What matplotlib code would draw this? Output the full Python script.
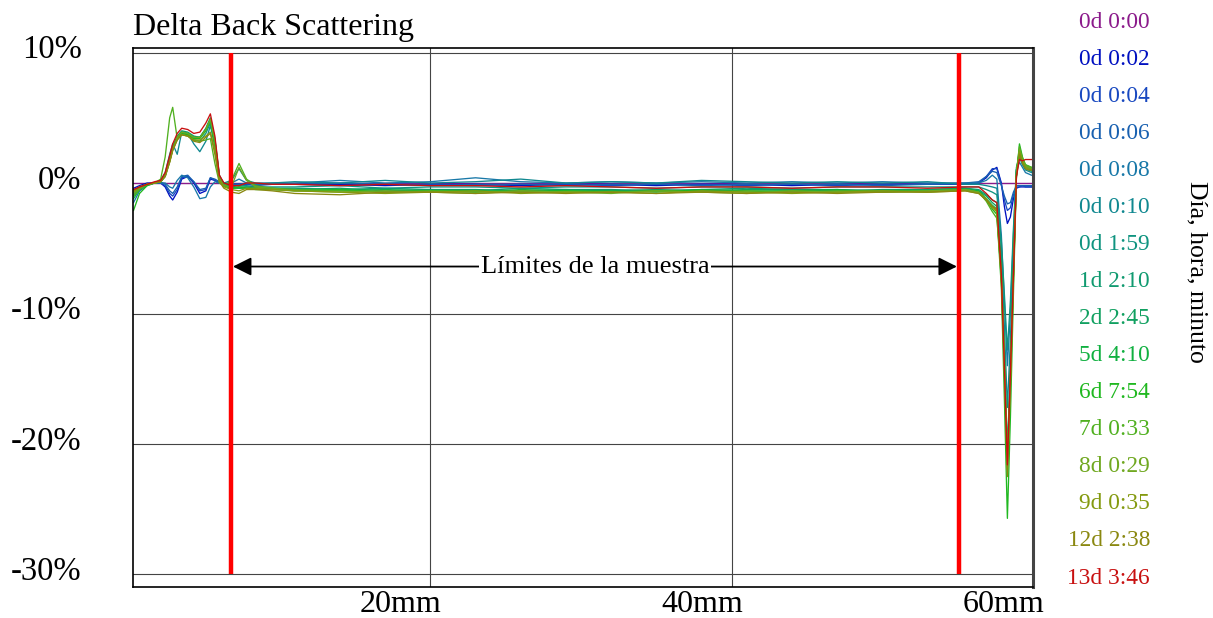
import matplotlib.pyplot as plt
from matplotlib.transforms import ScaledTranslation

plt.rcParams['font.family'] = ['Liberation Serif', 'DejaVu Serif']

# position along the tube (mm)
pos_mm = ([0.3, 0.7, 1.2, 1.7, 2.1, 2.4, 2.7, 2.9, 3.2, 3.5, 3.9, 4.3, 4.7, 5.1, 5.4, 5.7,
           6.0, 6.3, 6.8, 7.3, 7.8, 8.4, 9.5]
          + [11, 14, 17, 20, 23, 26, 29, 32, 35, 38, 41, 44, 47, 50, 53]
          + [55.5, 56.4, 56.9, 57.3, 57.6, 57.9, 58.1, 58.3, 58.5, 58.7, 58.9, 59.1, 59.3,
             59.5, 59.7, 59.9])

# delta backscattering (%) for each scan
bs_0000 = [0.0] * len(pos_mm)
bs_0002 = ([-0.4, -0.2, 0.0, 0.0, 0.0, -0.3, -1.0, -1.3, -0.7, 0.3, 0.5, 0.0, -0.8, -0.6, 0.3, 0.2, 0.0, -0.1, -0.1, -0.1, -0.1, -0.1, -0.1]
           + [-0.1, -0.1, -0.2, -0.1, -0.1, -0.2, -0.1, -0.1, -0.2, -0.1, -0.1, -0.2, -0.1, -0.1, -0.1]
           + [-0.1, 0.0, 0.4, 1.0, 1.2, 0.0, -1.8, -3.1, -2.6, -1.2, -0.4, -0.3, -0.3, -0.3, -0.3, -0.3])
bs_0004 = ([-0.5, -0.3, -0.1, 0.0, 0.0, -0.2, -0.8, -1.0, -0.5, 0.4, 0.5, 0.1, -0.6, -0.5, 0.4, 0.2, 0.0, -0.1, -0.1, -0.1, -0.1, -0.2, -0.1]
           + [-0.1, -0.2, -0.1, -0.1, -0.2, -0.1, -0.1, -0.2, -0.1, -0.1, -0.2, -0.1, -0.2, -0.1, -0.1]
           + [-0.1, 0.0, 0.5, 1.1, 1.1, -0.1, -1.3, -2.1, -1.9, -0.9, -0.3, -0.3, -0.2, -0.3, -0.3, -0.3])
bs_0006 = ([-0.8, -0.4, -0.1, 0.0, 0.1, -0.1, -0.6, -0.8, -0.3, 0.5, 0.6, 0.1, -0.5, -0.4, 0.4, 0.3, 0.1, 0.0, -0.1, -0.1, 0.0, -0.1, -0.1]
           + [-0.1, 0.0, -0.1, -0.2, -0.1, -0.1, -0.2, -0.1, -0.1, -0.2, -0.1, -0.1, -0.1, -0.2, -0.1]
           + [0.0, 0.1, 0.5, 0.9, 0.8, -0.2, -1.0, -1.6, -1.5, -0.7, -0.2, -0.2, -0.2, -0.2, -0.2, -0.2])
bs_0008 = ([-1.5, -0.6, -0.2, 0.0, 0.0, 0.0, -0.3, -0.4, 0.2, 0.6, 0.4, -0.3, -1.2, -1.1, -0.3, 0.1, 0.0, -0.1, 0.0, 0.3, 0.0, -0.1, 0.0]
           + [0.0, 0.2, 0.0, 0.1, 0.4, 0.1, 0.0, 0.1, 0.0, 0.1, 0.0, 0.1, 0.0, 0.1, 0.0]
           + [0.0, 0.0, 0.2, 0.6, 0.3, -4.0, -9.0, -14.0, -10.0, -4.0, 1.0, 1.6, 1.2, 0.8, 0.7, 0.6])
bs_0010 = ([-1.0, -0.5, -0.1, 0.0, 0.2, 0.8, 2.2, 3.0, 2.2, 3.9, 3.8, 3.0, 2.4, 3.2, 4.4, 2.8, 0.5, 0.0, 0.2, 1.1, 0.2, 0.0, 0.0]
           + [0.1, 0.0, 0.2, 0.0, 0.1, 0.3, 0.0, 0.1, 0.0, 0.2, 0.1, 0.0, 0.1, 0.0, 0.1]
           + [-0.1, -0.1, -0.2, -0.3, -0.4, -5.0, -11.0, -17.2, -12.0, -5.0, 1.0, 2.0, 1.4, 1.0, 0.9, 0.8])
bs_0159 = ([-0.9, -0.4, -0.1, 0.0, 0.2, 0.7, 1.8, 2.6, 3.4, 3.8, 3.7, 3.3, 3.2, 3.8, 4.6, 3.2, 0.5, -0.1, -0.3, -0.2, -0.2, -0.3, -0.3]
           + [-0.3, -0.2, -0.4, -0.3, -0.3, -0.4, -0.3, -0.3, -0.4, -0.3, -0.3, -0.4, -0.3, -0.3, -0.3]
           + [-0.3, -0.3, -0.5, -0.7, -0.9, -4.5, -8.5, -12.8, -9.0, -3.5, 1.2, 2.0, 1.5, 1.1, 1.0, 0.9])
bs_1d0210 = ([-0.7, -0.4, -0.1, 0.0, 0.1, 0.6, 1.9, 2.8, 3.6, 4.0, 3.9, 3.6, 3.5, 4.2, 5.0, 3.4, 0.6, -0.1, -0.3, -0.4, -0.3, -0.3, -0.4]
             + [-0.4, -0.5, -0.4, -0.5, -0.6, -0.4, -0.5, -0.5, -0.6, -0.5, -0.4, -0.5, -0.5, -0.6, -0.5]
             + [-0.4, -0.5, -0.9, -1.3, -1.5, -6.0, -13.0, -20.5, -14.0, -6.5, 0.5, 2.2, 1.6, 1.2, 1.1, 1.0])
bs_2d0245 = ([-0.6, -0.3, -0.1, 0.0, 0.1, 0.5, 1.7, 2.6, 3.5, 3.9, 3.8, 3.5, 3.5, 4.1, 4.9, 3.3, 0.5, -0.2, -0.4, -0.3, -0.3, -0.4, -0.4]
             + [-0.5, -0.4, -0.6, -0.5, -0.5, -0.6, -0.5, -0.6, -0.5, -0.6, -0.5, -0.5, -0.6, -0.5, -0.5]
             + [-0.4, -0.6, -1.0, -1.5, -1.8, -6.5, -13.5, -21.0, -14.5, -6.5, 0.8, 2.4, 1.6, 1.3, 1.2, 1.1])
bs_5d0410 = ([-1.2, -0.5, -0.1, 0.0, 0.1, 0.6, 1.8, 2.7, 3.5, 3.9, 3.8, 3.5, 3.5, 4.1, 4.9, 3.0, 0.4, -0.2, -0.4, -0.4, -0.4, -0.4, -0.5]
             + [-0.5, -0.6, -0.5, -0.6, -0.7, -0.5, -0.6, -0.6, -0.7, -0.5, -0.6, -0.6, -0.5, -0.7, -0.6]
             + [-0.5, -0.6, -1.2, -1.7, -2.0, -7.0, -14.0, -21.5, -15.0, -7.0, 1.0, 2.5, 1.7, 1.3, 1.2, 1.1])
bs_6d0754 = ([-2.1, -0.8, -0.2, 0.0, 0.1, 0.6, 1.7, 2.6, 3.4, 3.8, 3.7, 3.4, 3.4, 4.0, 4.8, 2.8, 0.3, -0.2, -0.4, -0.3, -0.4, -0.5, -0.5]
             + [-0.6, -0.5, -0.7, -0.6, -0.6, -0.7, -0.6, -0.7, -0.6, -0.6, -0.7, -0.6, -0.7, -0.6, -0.6]
             + [-0.5, -0.7, -1.3, -2.0, -2.4, -8.0, -16.5, -25.7, -18.0, -8.5, 0.5, 3.0, 2.0, 1.4, 1.3, 1.2])
bs_7d0033 = ([-1.0, -0.5, -0.1, 0.0, 0.3, 2.0, 5.0, 5.8, 3.4, 3.7, 3.6, 3.3, 3.2, 3.3, 3.4, 1.5, 0.0, -0.2, 0.2, 1.5, 0.3, -0.2, -0.4]
             + [-0.5, -0.6, -0.7, -0.6, -0.7, -0.6, -0.7, -0.7, -0.6, -0.7, -0.6, -0.7, -0.6, -0.6, -0.7]
             + [-0.5, -0.7, -1.4, -2.2, -2.7, -7.0, -13.0, -21.0, -15.0, -7.0, 0.8, 2.8, 1.9, 1.4, 1.3, 1.2])
bs_8d0029 = ([-0.8, -0.4, -0.1, 0.0, 0.1, 0.6, 1.7, 2.6, 3.5, 3.9, 3.8, 3.5, 3.5, 4.1, 4.9, 3.2, 0.4, -0.2, -0.3, 1.2, 0.2, -0.3, -0.4]
             + [-0.6, -0.7, -0.6, -0.7, -0.8, -0.6, -0.7, -0.8, -0.6, -0.7, -0.8, -0.6, -0.7, -0.7, -0.6]
             + [-0.5, -0.7, -1.2, -1.8, -2.1, -7.5, -14.5, -22.0, -15.5, -7.5, 0.6, 2.6, 1.8, 1.3, 1.2, 1.1])
bs_9d0035 = ([-0.7, -0.3, -0.1, 0.0, 0.1, 0.5, 1.6, 2.5, 3.3, 3.7, 3.6, 3.3, 3.3, 3.6, 3.9, 2.5, 0.2, -0.3, -0.5, -0.6, -0.4, -0.4, -0.5]
             + [-0.6, -0.7, -0.8, -0.7, -0.6, -0.8, -0.7, -0.7, -0.8, -0.6, -0.7, -0.8, -0.7, -0.6, -0.7]
             + [-0.6, -0.8, -1.3, -1.9, -2.2, -7.0, -14.0, -21.8, -15.0, -7.0, 0.6, 2.4, 1.6, 1.2, 1.1, 1.0])
bs_12d0238 = ([-0.6, -0.3, -0.1, 0.0, 0.1, 0.5, 1.6, 2.5, 3.3, 3.7, 3.6, 3.2, 3.1, 3.5, 3.8, 2.2, 0.1, -0.4, -0.7, -0.8, -0.5, -0.5, -0.6]
              + [-0.8, -0.9, -0.7, -0.7, -0.8, -0.7, -0.8, -0.7, -0.8, -0.7, -0.8, -0.7, -0.8, -0.7, -0.7]
              + [-0.6, -0.8, -1.3, -1.8, -2.0, -7.5, -14.5, -22.5, -15.5, -7.5, 0.5, 2.2, 1.5, 1.1, 1.0, 1.0])
bs_13d0346 = ([-0.5, -0.3, -0.1, 0.1, 0.2, 0.8, 2.1, 3.0, 3.8, 4.2, 4.1, 3.8, 3.9, 4.6, 5.3, 3.6, 0.6, 0.0, -0.2, -0.2, 0.0, 0.0, -0.1]
              + [-0.1, -0.2, -0.1, -0.2, -0.2, -0.3, -0.2, -0.3, -0.4, -0.3, -0.3, -0.4, -0.3, -0.3, -0.4]
              + [-0.3, -0.3, -0.8, -1.3, -1.5, -7.0, -14.0, -21.6, -14.5, -7.0, 0.5, 1.8, 1.7, 1.8, 1.8, 1.8])

scans = [bs_0000, bs_0002, bs_0004, bs_0006, bs_0008, bs_0010, bs_0159, bs_1d0210,
         bs_2d0245, bs_5d0410, bs_6d0754, bs_7d0033, bs_8d0029, bs_9d0035, bs_12d0238, bs_13d0346]
scan_labels = ['0d 0:00', '0d 0:02', '0d 0:04', '0d 0:06', '0d 0:08', '0d 0:10', '0d 1:59', '1d 2:10',
               '2d 2:45', '5d 4:10', '6d 7:54', '7d 0:33', '8d 0:29', '9d 0:35', '12d 2:38', '13d 3:46']
scan_colors = ['#8b1a8b', '#0010c0', '#1848c0', '#1860b0', '#1878a8', '#108890', '#109480', '#109a70',
               '#10a060', '#10b040', '#20b820', '#50b020', '#70a820', '#849a10', '#8a8810', '#c81010']

y_ticks = [10, 0, -10, -20, -30]
y_ticklabels = ['10%', '0%', '-10%', '-20%', '-30%']
x_ticks = [20, 40, 60]
x_ticklabels = ['20mm', '40mm', '60mm']

# sample limits (mm)
lim_low, lim_high = 6.75, 55.1

W, H = 1213, 618
fig = plt.figure(figsize=(W / 100, H / 100), dpi=100)
ax = fig.add_axes([133 / W, (H - 587) / H, 900 / W, (587 - 47.7) / H])

for vals, col in zip(scans, scan_colors):
    ax.plot(pos_mm, vals, color=col, lw=0.95)

ax.set_xlim(0.265, 59.87)
ax.set_ylim(-30.96, 10.37)
ax.set_yticks(y_ticks, y_ticklabels, fontsize=23.5)
ax.set_xticks(x_ticks, x_ticklabels, fontsize=23)
ax.tick_params(length=0)
ax.tick_params(axis='y', pad=37)
ax.tick_params(axis='x', pad=0)
for lab in ax.get_yticklabels():
    lab.set_transform(lab.get_transform() + ScaledTranslation(0, 6 / 100, fig.dpi_scale_trans))
for lab in ax.get_xticklabels():
    lab.set_horizontalalignment('right')
    lab.set_transform(lab.get_transform() + ScaledTranslation(11 / 100, -3 / 100, fig.dpi_scale_trans))
ax.grid(True, color='#444444', lw=0.8)
ax.set_axisbelow(True)
for s in ['left', 'top', 'bottom']:
    ax.spines[s].set_linewidth(1.2)
ax.spines['right'].set_color('#444444')
ax.spines['right'].set_linewidth(2.2)

ax.vlines([lim_low, lim_high], y_ticks[-1], y_ticks[0], color='#ff0000', lw=3.2, zorder=5)
ax.annotate('', xy=(lim_low + 0.15, -6.4), xytext=(lim_high - 0.15, -6.4),
            arrowprops=dict(arrowstyle='<|-|>', color='black', lw=1.3, mutation_scale=28,
                            shrinkA=0, shrinkB=0))
ax.text((lim_low + lim_high) / 2, -6.4, 'Límites de la muestra', fontsize=19,
        ha='center', va='center', bbox=dict(facecolor='white', edgecolor='none', pad=1))

fig.text(133 / W, 1 - 28 / H, 'Delta Back Scattering', fontsize=23, ha='left', va='center')

for i, (lab, col) in enumerate(zip(scan_labels, scan_colors)):
    fig.text(1150 / W, 1 - (22 + i * 37.07) / H, lab, color=col, fontsize=16.8,
             ha='right', va='center')
fig.text(1197 / W, 1 - 272 / H, 'Día, hora, minuto', rotation=270, fontsize=18.5,
         ha='center', va='center')

fig.savefig('out.png', dpi=100)
